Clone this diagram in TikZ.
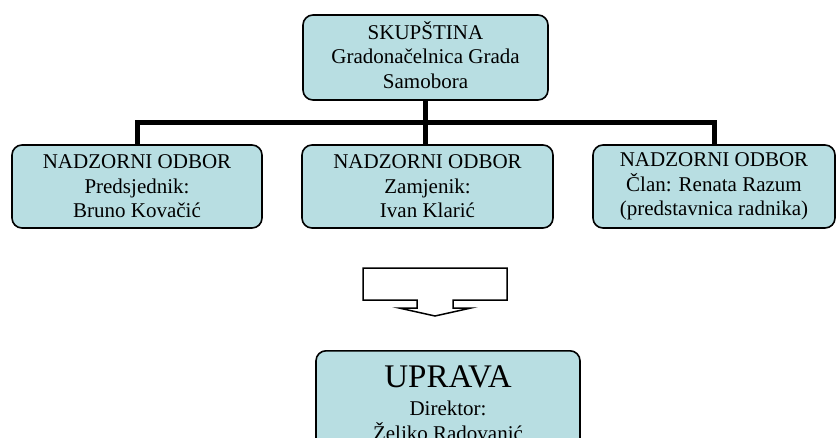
\documentclass[tikz,border=0pt]{standalone}
\usepackage{fontspec}
\setmainfont{Liberation Serif}
\definecolor{boxfill}{RGB}{184,222,226}
\begin{document}
\begin{tikzpicture}[x=1pt,y=-1pt,
  orgbox/.style={draw=black, line width=1.6pt, fill=boxfill, rounded corners=10pt,
    align=center, font=\fontsize{21}{24.5}\selectfont, inner sep=0pt},
  link/.style={line width=5pt},
  blockarrow/.style={draw=black, line width=1.5pt, fill=white, line join=miter}]
\useasboundingbox (0,0) rectangle (836,437);
\clip (0,0) rectangle (836,437);

\node[orgbox, minimum width=245pt, minimum height=85pt] (top) at (425.5,57.5)
  {SKUPŠTINA\\Gradonačelnica Grada\\Samobora\rule[-6pt]{0pt}{6pt}};

\node[orgbox, minimum width=250pt, minimum height=83pt] (left) at (137,186.5)
  {NADZORNI ODBOR\\Predsjednik:\\Bruno Kovačić};
\node[orgbox, minimum width=251pt, minimum height=83pt] (mid) at (427.5,186.5)
  {NADZORNI ODBOR\\Zamjenik:\\Ivan Klarić};
\node[orgbox, minimum width=242pt, minimum height=83pt] (right) at (714,186.5)
  {NADZORNI ODBOR\\Član: Renata Razum\\(predstavnica radnika)};

\draw[link] (top.south) -- (top.south |- mid.north);
\draw[link] (left.north) -- ++(0,-21.5) -| (right.north);

\draw[blockarrow] (363,268) -- (507,268) -- (507,300) -- (453,300) -- (453,308)
  -- (471,308) -- (435,316) -- (399,308) -- (417,308) -- (417,300) -- (363,300) -- cycle;

\node[orgbox, anchor=north, inner ysep=15pt, minimum width=264pt] (uprava) at (448,350)
  {{\fontsize{33}{36}\selectfont UPRAVA}\\[3.5pt]Direktor:\\Željko Radovanić\rule[-40pt]{0pt}{40pt}};
\end{tikzpicture}
\end{document}
